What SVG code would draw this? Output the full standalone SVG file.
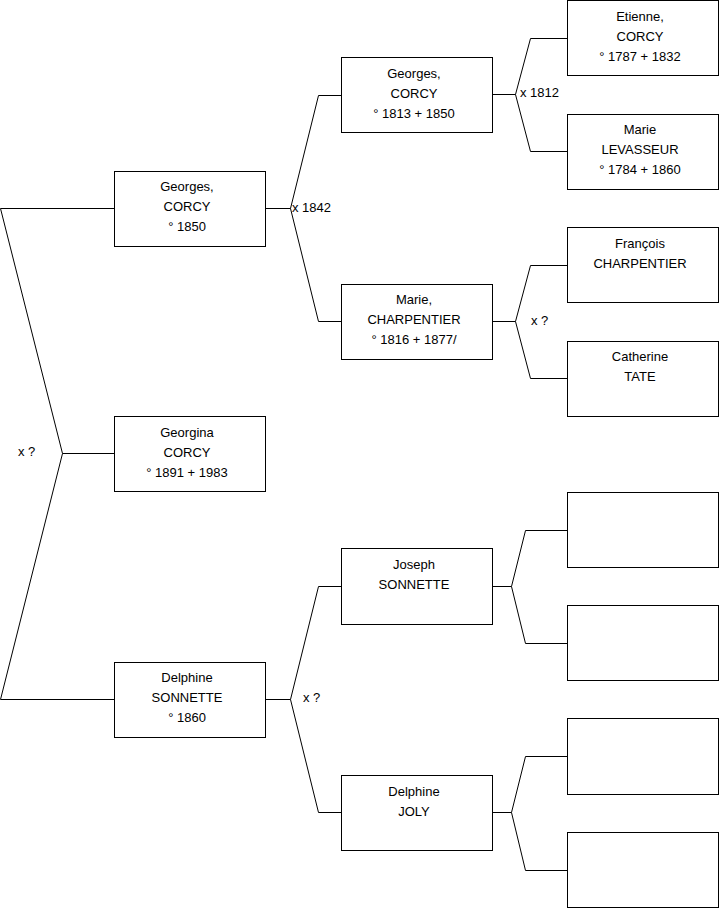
<svg xmlns="http://www.w3.org/2000/svg" width="719" height="908" viewBox="0 0 719 908">
<style>
.box{fill:#fff;stroke:#000;stroke-width:1}
.ln{fill:none;stroke:#000;stroke-width:1}
text{font-family:"Liberation Sans",Arial,sans-serif;font-size:13px;fill:#000}
.c{text-anchor:middle}
</style>
<rect width="719" height="908" fill="#fff"/>
<g id="connectors">
<polyline class="ln" points="114.5,208.5 0.5,208.5 62.5,453.5 0.5,699.5 114.5,699.5"/>
<line class="ln" x1="62.5" y1="453.5" x2="114.5" y2="453.5"/>
<polyline class="ln" points="341.5,95.5 318.5,95.5 290.5,208.5 318.5,321.5 341.5,321.5"/>
<line class="ln" x1="265.5" y1="208.5" x2="290.5" y2="208.5"/>
<polyline class="ln" points="567.5,38.5 530.5,38.5 515.5,94.5 530.5,151.5 567.5,151.5"/>
<line class="ln" x1="492.5" y1="94.5" x2="515.5" y2="94.5"/>
<polyline class="ln" points="567.5,265.5 530.5,265.5 515.5,321.5 530.5,378.5 567.5,378.5"/>
<line class="ln" x1="492.5" y1="321.5" x2="515.5" y2="321.5"/>
<polyline class="ln" points="341.5,586.5 318.5,586.5 290.5,699.5 318.5,812.5 341.5,812.5"/>
<line class="ln" x1="265.5" y1="699.5" x2="290.5" y2="699.5"/>
<polyline class="ln" points="567.5,530.5 525.5,530.5 511.5,586.5 525.5,643.5 567.5,643.5"/>
<line class="ln" x1="492.5" y1="586.5" x2="511.5" y2="586.5"/>
<polyline class="ln" points="567.5,756.5 525.5,756.5 511.5,812.5 525.5,870.5 567.5,870.5"/>
<line class="ln" x1="492.5" y1="812.5" x2="511.5" y2="812.5"/>
<text x="18" y="456">x ?</text>
<text x="292" y="212">x 1842</text>
<text x="520" y="97">x 1812</text>
<text x="531" y="325">x ?</text>
<text x="303" y="702">x ?</text>
</g>
<g id="georges1850">
<rect class="box" x="114.5" y="171.5" width="151" height="75"/>
<text class="c" x="187" y="191">Georges,</text>
<text class="c" x="187" y="211">CORCY</text>
<text class="c" x="187" y="231">° 1850</text>
</g>
<g id="georgina">
<rect class="box" x="114.5" y="416.5" width="151" height="75"/>
<text class="c" x="187" y="437">Georgina</text>
<text class="c" x="187" y="457">CORCY</text>
<text class="c" x="187" y="477">° 1891 + 1983</text>
</g>
<g id="delphine1860">
<rect class="box" x="114.5" y="662.5" width="151" height="75"/>
<text class="c" x="187" y="682">Delphine</text>
<text class="c" x="187" y="702">SONNETTE</text>
<text class="c" x="187" y="722">° 1860</text>
</g>
<g id="georges1813">
<rect class="box" x="341.5" y="57.5" width="151" height="75"/>
<text class="c" x="414" y="78">Georges,</text>
<text class="c" x="414" y="98">CORCY</text>
<text class="c" x="414" y="118">° 1813 + 1850</text>
</g>
<g id="marieCharpentier">
<rect class="box" x="341.5" y="284.5" width="151" height="75"/>
<text class="c" x="414" y="304">Marie,</text>
<text class="c" x="414" y="324">CHARPENTIER</text>
<text class="c" x="414" y="344">° 1816 + 1877/</text>
</g>
<g id="josephSonnette">
<rect class="box" x="341.5" y="548.5" width="151" height="76"/>
<text class="c" x="414" y="569">Joseph</text>
<text class="c" x="414" y="589">SONNETTE</text>
</g>
<g id="delphineJoly">
<rect class="box" x="341.5" y="775.5" width="151" height="75"/>
<text class="c" x="414" y="796">Delphine</text>
<text class="c" x="414" y="816">JOLY</text>
</g>
<g id="etienne">
<rect class="box" x="567.5" y="0.5" width="151" height="75"/>
<text class="c" x="640" y="21">Etienne,</text>
<text class="c" x="640" y="41">CORCY</text>
<text class="c" x="640" y="61">° 1787 + 1832</text>
</g>
<g id="marieLevasseur">
<rect class="box" x="567.5" y="114.5" width="151" height="75"/>
<text class="c" x="640" y="134">Marie</text>
<text class="c" x="640" y="154">LEVASSEUR</text>
<text class="c" x="640" y="174">° 1784 + 1860</text>
</g>
<g id="francois">
<rect class="box" x="567.5" y="227.5" width="151" height="75"/>
<text class="c" x="640" y="248">François</text>
<text class="c" x="640" y="268">CHARPENTIER</text>
</g>
<g id="catherine">
<rect class="box" x="567.5" y="341.5" width="151" height="75"/>
<text class="c" x="640" y="361">Catherine</text>
<text class="c" x="640" y="381">TATE</text>
</g>
<g id="empty1"><rect class="box" x="567.5" y="492.5" width="151" height="75"/></g>
<g id="empty2"><rect class="box" x="567.5" y="605.5" width="151" height="75"/></g>
<g id="empty3"><rect class="box" x="567.5" y="718.5" width="151" height="76"/></g>
<g id="empty4"><rect class="box" x="567.5" y="832.5" width="151" height="75"/></g>
</svg>
